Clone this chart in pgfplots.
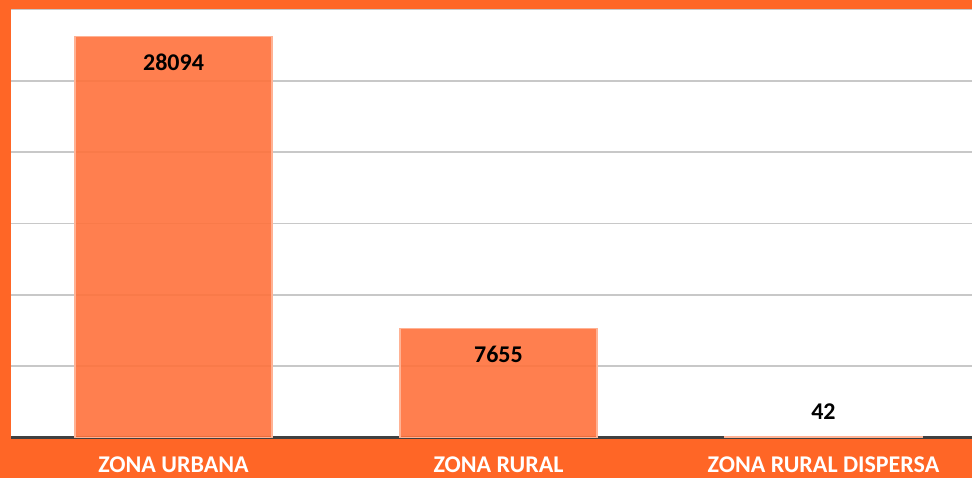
\documentclass[border=0pt]{standalone}
\usepackage{fontspec}
\setmainfont{Carlito}
\usepackage{pgfplots}
\pgfplotsset{compat=1.18}

\definecolor{frame}{RGB}{255,102,38}
\definecolor{barfill}{RGB}{255,114,60}
\definecolor{baredge}{RGB}{255,178,148}
\definecolor{gridgray}{RGB}{200,200,200}
\definecolor{baseline}{RGB}{64,64,64}

\begin{document}
\begin{tikzpicture}
\clip (0,0) rectangle (972pt,478pt);
\fill[frame] (0,0) rectangle (972pt,478pt);
\begin{axis}[
    at={(11pt,40.5pt)}, anchor=south west,
    scale only axis,
    width=961pt, height=428pt,
    axis background/.style={fill=white},
    axis line style={draw=none},
    xmin=-0.5, xmax=2.457,
    ymin=0, ymax=30000,
    ytick={5000,10000,15000,20000,25000,30000},
    yticklabels={},
    ymajorgrids,
    grid style={gridgray, line width=1.5pt},
    extra y ticks={0},
    extra y tick labels={},
    extra y tick style={grid style={draw=baseline, line width=3pt}},
    major tick length=0pt,
    xtick={0,1,2},
    xticklabels={ZONA URBANA, ZONA RURAL, ZONA RURAL DISPERSA},
    xticklabel style={font=\fontsize{24}{27}\selectfont\bfseries, text=white, anchor=base, yshift=-35.5pt},
    ybar, bar width=197pt,
    clip=false,
]
\addplot[fill=barfill, fill opacity=0.9, draw=baredge, line width=1.2pt] coordinates {
    (0,28094) (1,7655) (2,42)
};
\node[font=\fontsize{24}{27}\selectfont\bfseries, anchor=center, yshift=-26pt] at (axis cs:0,28094) {28094};
\node[font=\fontsize{24}{27}\selectfont\bfseries, anchor=center, yshift=-26pt] at (axis cs:1,7655) {7655};
\node[font=\fontsize{24}{27}\selectfont\bfseries, anchor=center, yshift=25pt] at (axis cs:2,42) {42};
\end{axis}
\end{tikzpicture}
\end{document}
